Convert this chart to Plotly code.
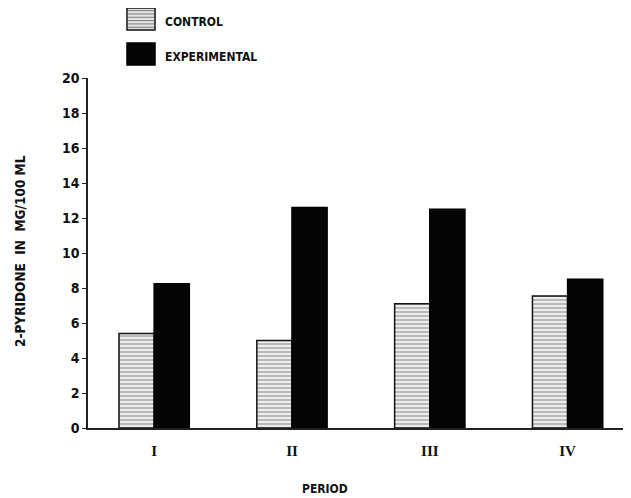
import plotly.graph_objects as go

periods = ["I", "II", "III", "IV"]
control = [5.4, 5.0, 7.1, 7.55]
experimental = [8.25, 12.6, 12.5, 8.5]
y_ticks = [0, 2, 4, 6, 8, 10, 12, 14, 16, 18, 20]

SANS = "DejaVu Sans Condensed, DejaVu Sans"

fig = go.Figure()
fig.add_trace(go.Bar(
    x=periods, y=control, name="CONTROL",
    marker=dict(color="#dcdcdc",
                line=dict(color="#111", width=1.5),
                pattern=dict(shape="-", size=4, solidity=0.4, fgcolor="#6a6a6a", bgcolor="#ececec")),
    showlegend=False,
))
fig.add_trace(go.Bar(
    x=periods, y=experimental, name="EXPERIMENTAL",
    marker=dict(color="#050505", line=dict(color="#000", width=1.5)),
    showlegend=False,
))

# legend drawn manually
fig.add_shape(type="rect", xref="paper", yref="paper", x0=0.0718, x1=0.1234, y0=1.137, y1=1.2,
              line=dict(color="#111", width=1.5), fillcolor="#e4e4e4")
for i in range(6):
    yy = 1.145 + i * 0.0095
    fig.add_shape(type="line", xref="paper", yref="paper", x0=0.0735, x1=0.1217, y0=yy, y1=yy,
                  line=dict(color="#7a7a7a", width=1))
fig.add_shape(type="rect", xref="paper", yref="paper", x0=0.0718, x1=0.1234, y0=1.037, y1=1.1,
              line=dict(color="#000", width=1.5), fillcolor="#050505")
fig.add_annotation(x=0.138, y=1.16, xref="paper", yref="paper", text="CONTROL",
                   showarrow=False, xanchor="left", yanchor="middle",
                   font=dict(family=SANS, size=12, color="#111", weight="bold"))
fig.add_annotation(x=0.138, y=1.06, xref="paper", yref="paper", text="EXPERIMENTAL",
                   showarrow=False, xanchor="left", yanchor="middle",
                   font=dict(family=SANS, size=12, color="#111", weight="bold"))

# axis titles
fig.add_annotation(x=0.4365, y=-0.174, xref="paper", yref="paper", text="PERIOD",
                   showarrow=False, xanchor="center", yanchor="middle",
                   font=dict(family=SANS, size=12, color="#111", weight="bold"))
fig.add_annotation(x=-0.125, y=0.506, xref="paper", yref="paper",
                   text="2-PYRIDONE\u00a0\u00a0IN\u00a0\u00a0MG/100\u00a0ML",
                   showarrow=False, textangle=-90, xanchor="center", yanchor="middle",
                   font=dict(family=SANS, size=13.5, color="#111", weight="bold"))

fig.update_layout(
    width=623, height=490,
    margin=dict(l=80, r=0, t=70, b=70),
    paper_bgcolor="white", plot_bgcolor="white",
    barmode="group", bargap=0.49, bargroupgap=0,
    xaxis=dict(
        range=[-0.48, 3.46], showgrid=False, zeroline=False,
        showline=True, linecolor="#222", linewidth=1.5,
        ticks="", ticklabelstandoff=8,
        tickfont=dict(family="Liberation Serif", size=15, color="#111", weight="bold"),
    ),
    yaxis=dict(
        range=[0, 20], tickvals=y_ticks, showgrid=False, zeroline=False,
        showline=True, linecolor="#222", linewidth=1.5,
        ticks="outside", ticklen=4, tickcolor="#222", tickwidth=1.2,
        tickfont=dict(family=SANS, size=14, color="#111", weight="bold"),
    ),
)

fig.write_html("out.html")
